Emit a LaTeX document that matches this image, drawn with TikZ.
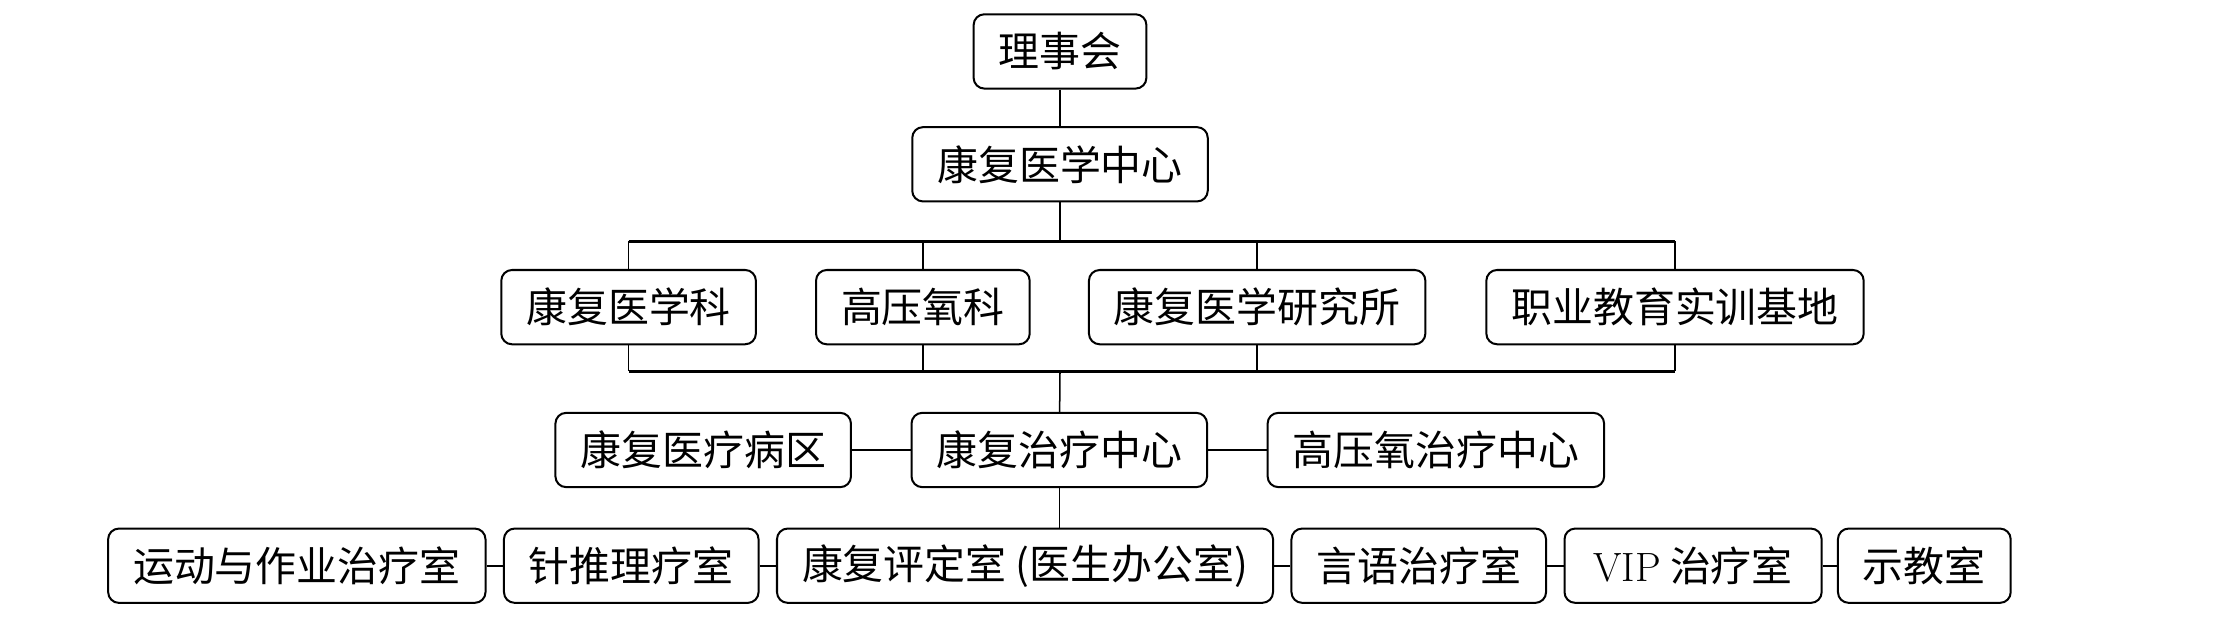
\documentclass[tikz,border=0pt]{standalone}
\usepackage{fontspec}
\usepackage{tikz}
\usetikzlibrary{calc, positioning}
\newfontfamily\cjk{Noto Sans CJK SC}
\tikzset{
    orgbox/.style={draw, line width=0.8pt, rounded corners=1.5mm, minimum height=1.04cm,
        inner xsep=0.35cm, font=\cjk\fontsize{16.3}{19}\selectfont},
    link/.style={line width=0.6pt},
    bus/.style={line width=0.9pt}
}

\begin{document}
\begin{tikzpicture}
    \useasboundingbox (0,0) rectangle (31.36,-8.9);

    % 理事会, 中心
    \node[orgbox] (lsh) at (14.84,-0.72) {理事会};
    \node[orgbox] (zx) at (14.84,-2.30) {康复医学中心};
    \draw[link] (lsh) -- (zx);

    % 四个科室
    \node[orgbox] (xk) at (8.80,-4.30) {康复医学科};
    \node[orgbox] (gyk) at (12.92,-4.30) {高压氧科};
    \node[orgbox] (yjs) at (17.60,-4.30) {康复医学研究所};
    \node[orgbox] (jd) at (23.45,-4.30) {职业教育实训基地};
    \coordinate (bustop) at (14.84,-3.38);
    \coordinate (busbot) at (14.84,-5.20);
    \draw[link] (zx) -- (bustop);
    \draw[bus] (xk |- bustop) -- (jd |- bustop);
    \draw[bus] (xk |- busbot) -- (jd |- busbot);
    \foreach \n in {xk, gyk, yjs, jd} {
        \draw[link] (\n.north) -- (\n |- bustop);
        \draw[link] (\n.south) -- (\n |- busbot);
    }

    % 治疗中心
    \node[orgbox] (zl) at (14.83,-6.30) {康复治疗中心};
    \node[orgbox, left=0.82cm of zl] (bq) {康复医疗病区};
    \node[orgbox, right=0.82cm of zl] (gyzl) {高压氧治疗中心};
    \draw[link] (busbot) -- (zl);
    \draw[bus] (bq) -- (zl);
    \draw[bus] (zl) -- (gyzl);

    % 治疗室
    \node[orgbox] (pd) at (14.35,-7.92) {康复评定室 (医生办公室)};
    \node[orgbox, left=0.23cm of pd] (zt) {针推理疗室};
    \node[orgbox, left=0.23cm of zt] (yd) {运动与作业治疗室};
    \node[orgbox, right=0.23cm of pd] (yy) {言语治疗室};
    \node[orgbox, right=0.23cm of yy, minimum width=3.6cm] (vip) {{\rmfamily VIP} 治疗室};
    \node[orgbox, right=0.2cm of vip] (sj) {示教室};
    \draw[link] (zl) -- (zl |- pd.north);
    \draw[bus] (yd) -- (zt);
    \draw[bus] (zt) -- (pd);
    \draw[bus] (pd) -- (yy);
    \draw[bus] (yy) -- (vip);
    \draw[bus] (vip) -- (sj);
\end{tikzpicture}
\end{document}
